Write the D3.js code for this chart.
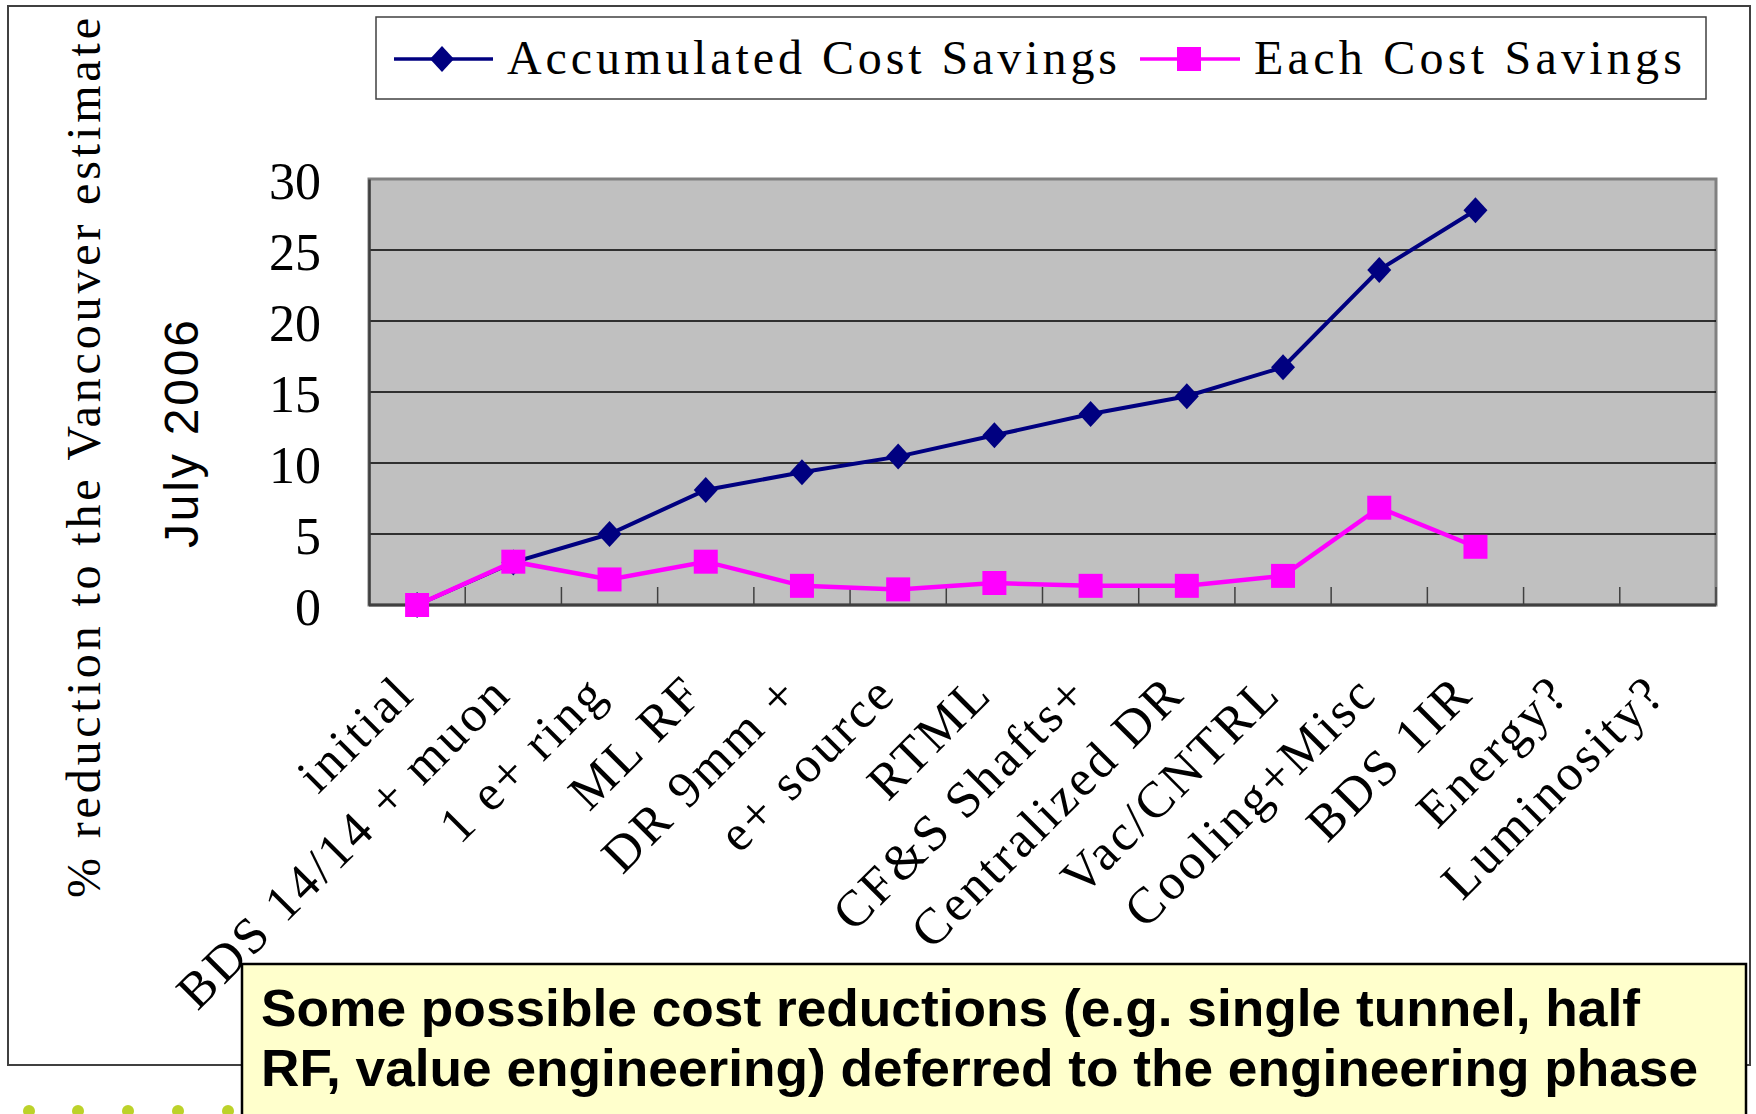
<!DOCTYPE html>
<html>
<head>
<meta charset="utf-8">
<style>
  body { margin: 0; background: #fff; }
  svg { display: block; }
</style>
</head>
<body>
<svg id="chart" width="1756" height="1114"></svg>
<script src="https://cdn.jsdelivr.net/npm/d3@7"></script>
<script>
// data
var categories = ["initial", "BDS 14/14 + muon", "1 e+ ring", "ML RF", "DR 9mm +", "e+ source",
  "RTML", "CF&S Shafts+", "Centralized DR", "Vac/CNTRL", "Cooling+Misc", "BDS 1IR",
  "Energy?", "Luminosity?"];
var accumulated = [0, 3, 5, 8.1, 9.35, 10.45, 11.95, 13.45, 14.7, 16.75, 23.6, 27.8, null, null];
var each = [0, 3.05, 1.8, 3.05, 1.35, 1.1, 1.55, 1.35, 1.35, 2.05, 6.85, 4.1, null, null];
var yTicks = [0, 5, 10, 15, 20, 25, 30];
var seriesNames = ["Accumulated Cost Savings", "Each Cost Savings"];
var noteLines = ["Some possible cost reductions (e.g. single tunnel, half",
  "RF, value engineering) deferred to the engineering phase"];

var svg = d3.select("#chart");
var serif = "'Liberation Serif', 'DejaVu Serif', serif";
var sans = "'Liberation Sans', Arial, sans-serif";

var plotL = 369, plotR = 1716, plotT = 179, plotB = 605;
var x = d3.scaleBand().domain(categories).range([plotL, plotR]).padding(0);
var y = d3.scaleLinear().domain([0, 30]).range([plotB, plotT]);
var cx = function(i) { return x(categories[i]) + x.bandwidth() / 2; };

// slide decoration dots (bottom left)
svg.selectAll("circle.dot").data([29, 78, 128, 178, 228]).enter().append("circle")
  .attr("class", "dot").attr("cx", function(d) { return d; }).attr("cy", 1111)
  .attr("r", 6).attr("fill", "#bcd22a");

// outer chart frame
svg.append("rect").attr("x", 8).attr("y", 6).attr("width", 1742).attr("height", 1059)
  .attr("fill", "none").attr("stroke", "#404040").attr("stroke-width", 2);

// plot area
svg.append("rect").attr("x", plotL).attr("y", plotT).attr("width", plotR - plotL).attr("height", plotB - plotT)
  .attr("fill", "#c0c0c0").attr("stroke", "#808080").attr("stroke-width", 3);

// gridlines
svg.selectAll("line.grid").data(yTicks.filter(function(d) { return d > 0 && d < 30; })).enter()
  .append("line").attr("class", "grid")
  .attr("x1", plotL).attr("x2", plotR)
  .attr("y1", function(d) { return y(d); }).attr("y2", function(d) { return y(d); })
  .attr("stroke", "#000").attr("stroke-width", 1.5);

// y axis
var yAxis = d3.axisLeft(y).tickValues(yTicks).tickSize(0).tickPadding(48);
var gy = svg.append("g").attr("transform", "translate(" + plotL + ",0)").call(yAxis);
gy.select(".domain").attr("stroke", "#404040").attr("stroke-width", 2.5);
gy.selectAll("text").attr("font-family", serif).attr("font-size", 52).attr("fill", "#000")
  .attr("dy", "0.38em");

// x axis with ticks between categories
svg.append("line").attr("x1", plotL).attr("x2", plotR).attr("y1", plotB).attr("y2", plotB)
  .attr("stroke", "#404040").attr("stroke-width", 3);
svg.selectAll("line.xtick").data(categories.slice(1).concat(["end"])).enter()
  .append("line").attr("class", "xtick")
  .attr("x1", function(d, i) { return plotL + (i + 1) * x.bandwidth(); })
  .attr("x2", function(d, i) { return plotL + (i + 1) * x.bandwidth(); })
  .attr("y1", plotB).attr("y2", plotB - 18)
  .attr("stroke", "#404040").attr("stroke-width", 1.5);

svg.selectAll("text.cat").data(categories).enter().append("text")
  .attr("class", "cat")
  .attr("transform", function(d, i) { return "translate(" + cx(i) + ",696) rotate(-45)"; })
  .attr("text-anchor", "end")
  .attr("font-family", serif).attr("font-size", 51).attr("letter-spacing", 3)
  .text(function(d) { return d; });

// axis titles
svg.append("text").attr("transform", "translate(100,458) rotate(-90)")
  .attr("text-anchor", "middle").attr("font-family", serif).attr("font-size", 48)
  .attr("textLength", 880).attr("lengthAdjust", "spacing")
  .text("% reduction to the Vancouver estimate");
svg.append("text").attr("transform", "translate(198,434) rotate(-90)")
  .attr("text-anchor", "middle").attr("font-family", sans).attr("font-size", 48)
  .attr("textLength", 228).attr("lengthAdjust", "spacing")
  .text("July 2006");

// series
function diamond(w, h) {
  return "M0," + (-h) + "L" + w + ",0L0," + h + "L" + (-w) + ",0Z";
}
var square = d3.symbol().type(d3.symbolSquare).size(576);

var lineA = d3.line().defined(function(d) { return d != null; })
  .x(function(d, i) { return cx(i); }).y(function(d) { return y(d); });

svg.append("path").datum(accumulated).attr("d", lineA)
  .attr("fill", "none").attr("stroke", "#000080").attr("stroke-width", 4);
svg.selectAll("path.dia").data(accumulated.map(function(v, i) { return [v, i]; })
    .filter(function(d) { return d[0] != null; })).enter()
  .append("path").attr("class", "dia")
  .attr("transform", function(d) { return "translate(" + cx(d[1]) + "," + y(d[0]) + ")"; })
  .attr("d", diamond(12, 13)).attr("fill", "#000080");

svg.append("path").datum(each).attr("d", lineA)
  .attr("fill", "none").attr("stroke", "#ff00ff").attr("stroke-width", 4.5);
svg.selectAll("path.sq").data(each.map(function(v, i) { return [v, i]; })
    .filter(function(d) { return d[0] != null; })).enter()
  .append("path").attr("class", "sq")
  .attr("transform", function(d) { return "translate(" + cx(d[1]) + "," + y(d[0]) + ")"; })
  .attr("d", square).attr("fill", "#ff00ff");

// legend
var lg = svg.append("g");
lg.append("rect").attr("x", 376).attr("y", 17).attr("width", 1330).attr("height", 82)
  .attr("fill", "#fff").attr("stroke", "#404040").attr("stroke-width", 1.5);
lg.append("line").attr("x1", 394).attr("x2", 493).attr("y1", 59).attr("y2", 59)
  .attr("stroke", "#000080").attr("stroke-width", 3.5);
lg.append("path").attr("transform", "translate(442,59)").attr("d", diamond(12, 13)).attr("fill", "#000080");
lg.append("text").attr("x", 507).attr("y", 74).attr("font-family", serif).attr("font-size", 48)
  .attr("textLength", 610).attr("lengthAdjust", "spacing").text(seriesNames[0]);
lg.append("line").attr("x1", 1140).attr("x2", 1240).attr("y1", 59).attr("y2", 59)
  .attr("stroke", "#ff00ff").attr("stroke-width", 3.5);
lg.append("path").attr("transform", "translate(1189,59)").attr("d", square).attr("fill", "#ff00ff");
lg.append("text").attr("x", 1254).attr("y", 74).attr("font-family", serif).attr("font-size", 48)
  .attr("textLength", 428).attr("lengthAdjust", "spacing").text(seriesNames[1]);

// note box
svg.append("rect").attr("x", 242).attr("y", 964).attr("width", 1504).attr("height", 160)
  .attr("fill", "#ffffcc").attr("stroke", "#000").attr("stroke-width", 2.5);
svg.selectAll("text.note").data(noteLines).enter().append("text")
  .attr("class", "note").attr("x", 261)
  .attr("y", function(d, i) { return 1026 + i * 60; })
  .attr("font-family", sans).attr("font-weight", "bold").attr("font-size", 52)
  .attr("textLength", function(d, i) { return i === 0 ? 1379 : 1437; })
  .attr("lengthAdjust", "spacingAndGlyphs")
  .text(function(d) { return d; });
</script>
</body>
</html>
